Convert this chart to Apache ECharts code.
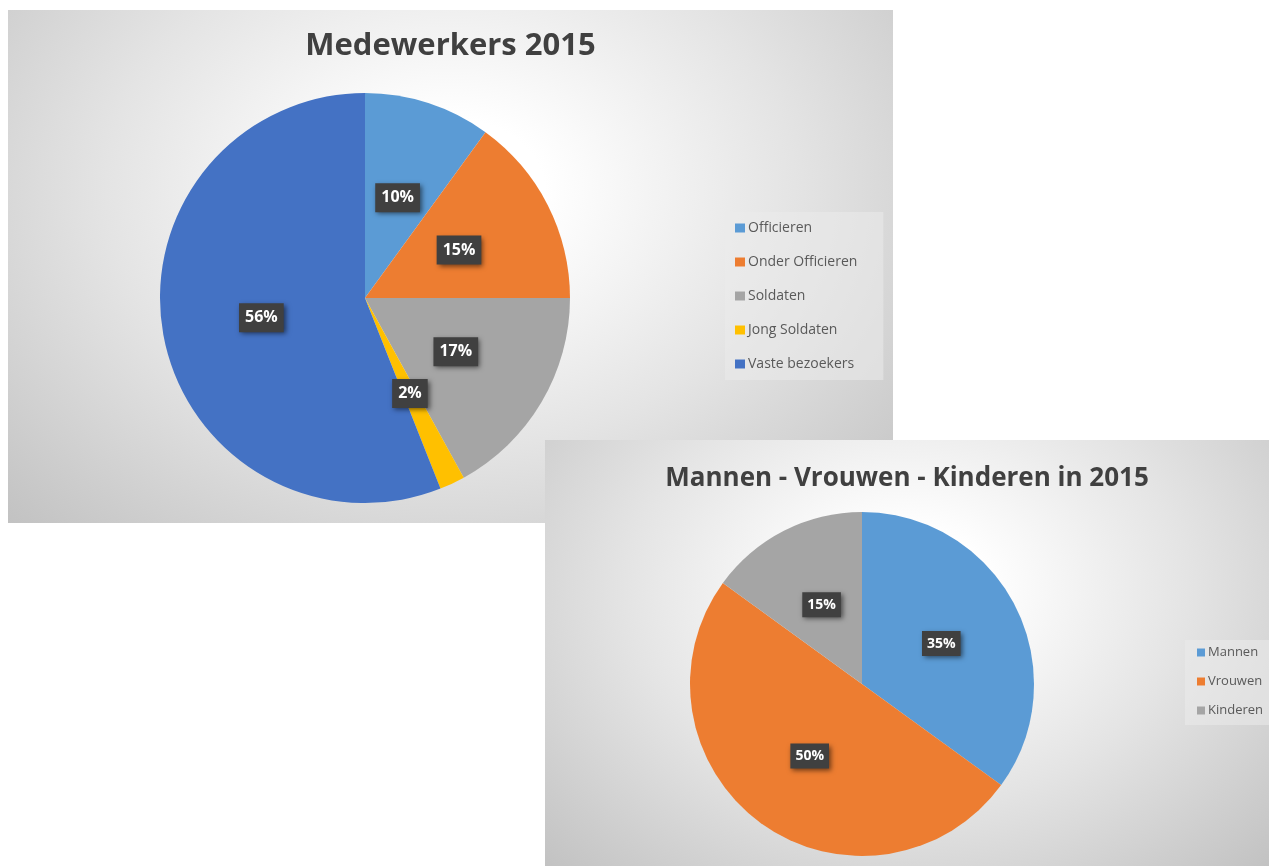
<!DOCTYPE html>
<html>
<head>
<meta charset="UTF-8">
<title>Medewerkers 2015</title>
<script src="https://cdn.jsdelivr.net/npm/echarts@6/dist/echarts.min.js"></script>
<style>
body { margin:0; background:#fff; }
.panel { position:absolute; background: radial-gradient(ellipse at 50% 35%, #ffffff 15%, #e4e4e4 55%, #c2c2c2 100%); }
#chart1 { left:8px; top:10px; width:885px; height:513px; z-index:1; }
#chart2 { left:545px; top:440px; width:724px; height:426px; z-index:2; }
</style>
</head>
<body>
<div id="chart1" class="panel"></div>
<div id="chart2" class="panel"></div>
<script type="text/javascript">
// data
var staffNames = ['Officieren', 'Onder Officieren', 'Soldaten', 'Jong Soldaten', 'Vaste bezoekers'];
var staffValues = [10, 15, 17, 2, 56];
var genderNames = ['Mannen', 'Vrouwen', 'Kinderen'];
var genderValues = [35, 50, 15];
var officeColors = ['#5B9BD5', '#ED7D31', '#A5A5A5', '#FFC000', '#4472C4'];

var fontFam = '"Open Sans", "Noto Sans", sans-serif';

function toData(names, values){
	var out = [];
	for (var i = 0; i < names.length; i++) {
		out.push({ name: names[i], value: values[i] });
	}
	return out;
}

// label style for the dark boxes
function darkLabel(size, pad){
	return {
		show: true,
		position: 'inside',
		formatter: '{d}%',
		color: '#fff',
		fontWeight: 'bold',
		fontSize: size,
		fontFamily: fontFam,
		backgroundColor: '#404040',
		padding: pad,
		shadowColor: 'rgba(0,0,0,0.55)',
		shadowBlur: 5,
		shadowOffsetX: 2,
		shadowOffsetY: 2
	};
}

var chart1 = echarts.init(document.getElementById('chart1'));
chart1.setOption({
	color: officeColors,
	animation: false,
	title: {
		text: 'Medewerkers 2015',
		left: 'center',
		top: 16,
		textStyle: { fontSize: 31, fontWeight: 'bold', color: '#404040', fontFamily: fontFam }
	},
	legend: {
		orient: 'vertical',
		left: 717,
		top: 202,
		data: staffNames,
		icon: 'rect',
		itemWidth: 10,
		itemHeight: 9,
		itemGap: 20,
		padding: [9, 26, 9, 10],
		backgroundColor: 'rgba(235,235,235,0.55)',
		textStyle: { fontSize: 14, color: '#595959', fontFamily: fontFam, padding: [0, 0, 0, -2] }
	},
	series: [{
		type: 'pie',
		center: [357, 288],
		radius: 205,
		startAngle: 90,
		clockwise: true,
		label: darkLabel(16, [7, 6, 6, 6]),
		labelLine: { show: false },
		data: toData(staffNames, staffValues)
	}]
});

var chart2 = echarts.init(document.getElementById('chart2'));
chart2.setOption({
	color: officeColors,
	animation: false,
	title: {
		text: 'Mannen - Vrouwen - Kinderen in 2015',
		left: 'center',
		top: 21,
		textStyle: { fontSize: 26, fontWeight: 'bold', color: '#404040', fontFamily: fontFam }
	},
	legend: {
		orient: 'vertical',
		left: 640,
		top: 200,
		data: genderNames,
		icon: 'rect',
		itemWidth: 8,
		itemHeight: 8,
		itemGap: 16,
		padding: [6, 6, 8, 12],
		backgroundColor: 'rgba(235,235,235,0.55)',
		textStyle: { fontSize: 13, color: '#595959', fontFamily: fontFam, padding: [0, 0, 0, -2] }
	},
	series: [{
		type: 'pie',
		center: [317, 244],
		radius: 172,
		startAngle: 90,
		clockwise: true,
		label: darkLabel(14, [6, 5, 5, 5]),
		labelLine: { show: false },
		data: toData(genderNames, genderValues)
	}]
});
</script>
</body>
</html>
